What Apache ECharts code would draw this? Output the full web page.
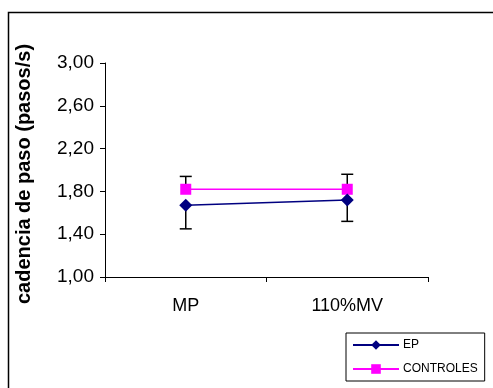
<!DOCTYPE html>
<html>
<head>
<meta charset="utf-8">
<script src="https://cdn.jsdelivr.net/npm/echarts@6/dist/echarts.min.js"></script>
<style>
  html, body {margin: 0; padding: 0; background: #fff;}
  #chart {width: 493px; height: 388px;}
</style>
</head>
<body>
<div id="chart"></div>
<script>
const categories = ["MP", "110%MV"];
const epValues = [1.67, 1.72];
const controlValues = [1.82, 1.82];
// EP shows the lower whisker, CONTROLES the upper one
const epLow = [1.45, 1.52];
const controlHigh = [1.94, 1.96];

const errorData = categories.map((c, i) => [i, epLow[i], controlHigh[i], epValues[i], controlValues[i]]);

const chart = echarts.init(document.getElementById("chart"));

const renderError = (params, api) => {
  const x = api.coord([api.value(0), 0])[0];
  const low = api.coord([api.value(0), api.value(1)])[1];
  const high = api.coord([api.value(0), api.value(2)])[1];
  const ep = api.coord([api.value(0), api.value(3)])[1];
  const ctl = api.coord([api.value(0), api.value(4)])[1];
  const half = 6;
  const style = {stroke: "#000", lineWidth: 1.5};
  return {
    type: "group",
    children: [
      {type: "line", shape: {x1: x, y1: ep, x2: x, y2: low}, style: style},
      {type: "line", shape: {x1: x - half, y1: low, x2: x + half, y2: low}, style: style},
      {type: "line", shape: {x1: x, y1: ctl, x2: x, y2: high}, style: style},
      {type: "line", shape: {x1: x - half, y1: high, x2: x + half, y2: high}, style: style},
    ],
  };
};

const option = {
  animation: false,
  textStyle: {fontFamily: "Liberation Sans, Arial, sans-serif"},
  graphic: [
    {type: "rect", shape: {x: 8.5, y: 12.5, width: 500, height: 400}, style: {fill: "none", stroke: "#000", lineWidth: 1.5}, z: -1},
  ],
  grid: {left: 105, right: 65, top: 63, bottom: 111},
  legend: {
    orient: "vertical",
    left: 346,
    top: 333,
    padding: [6, 7, 6, 6],
    itemGap: 12,
    itemWidth: 46,
    itemHeight: 12,
    borderColor: "#000",
    borderWidth: 1,
    borderRadius: 0,
    textStyle: {fontSize: 12, color: "#000", padding: [0, 0, 0, -1]},
    data: ["EP", "CONTROLES"],
  },
  xAxis: {
    type: "category",
    data: categories,
    boundaryGap: true,
    axisLine: {lineStyle: {color: "#000", width: 1}},
    axisTick: {show: true, length: 5, lineStyle: {color: "#000"}},
    axisLabel: {color: "#000", fontSize: 18, margin: 20},
    splitLine: {show: false},
  },
  yAxis: {
    type: "value",
    min: 1.0,
    max: 3.0,
    interval: 0.4,
    name: "cadencia de paso (pasos/s)",
    nameLocation: "middle",
    nameGap: 71,
    nameTextStyle: {fontSize: 20, fontWeight: "bold", color: "#000", padding: [0, 0, 0, -8]},
    axisLine: {show: true, lineStyle: {color: "#000", width: 1}},
    axisTick: {show: true, length: 5, lineStyle: {color: "#000"}},
    axisLabel: {
      color: "#000",
      fontSize: 19,
      margin: 11,
      formatter: (v) => v.toFixed(2).replace(".", ","),
    },
    splitLine: {show: false},
  },
  series: [
    {
      name: "errors",
      type: "custom",
      renderItem: renderError,
      data: errorData,
      encode: {x: 0, y: [1, 2]},
      z: 1,
    },
    {
      name: "EP",
      type: "line",
      data: epValues,
      symbol: "diamond",
      symbolSize: 13,
      lineStyle: {color: "#000080", width: 1.5},
      itemStyle: {color: "#000080"},
      z: 3,
    },
    {
      name: "CONTROLES",
      type: "line",
      data: controlValues,
      symbol: "rect",
      symbolSize: 11,
      lineStyle: {color: "#ff00ff", width: 1.5},
      itemStyle: {color: "#ff00ff"},
      z: 2,
    },
  ],
};

chart.setOption(option);
</script>
</body>
</html>
